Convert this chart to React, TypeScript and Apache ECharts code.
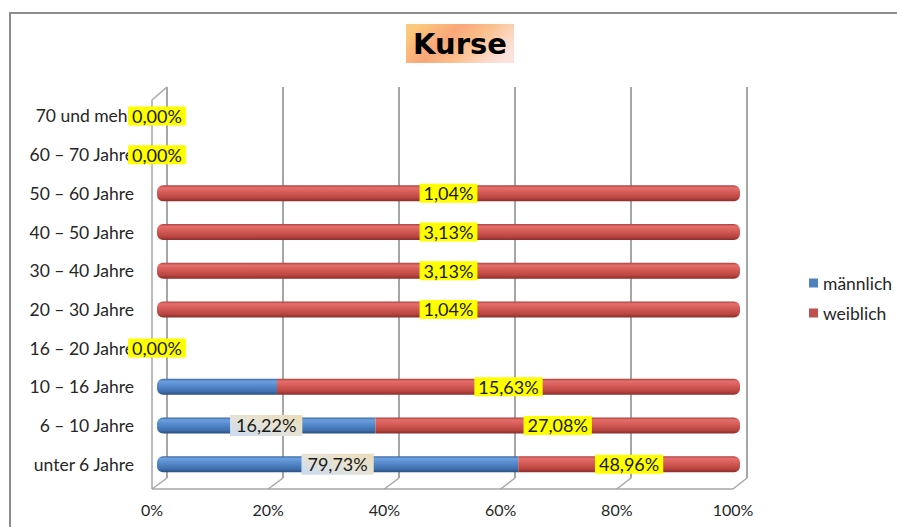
import React, { useEffect, useRef } from "react";
import * as echarts from "echarts";

const categories = [
  "unter 6 Jahre",
  "6 – 10 Jahre",
  "10 – 16 Jahre",
  "16 – 20 Jahre",
  "20 – 30 Jahre",
  "30 – 40 Jahre",
  "40 – 50 Jahre",
  "50 – 60 Jahre",
  "60 – 70 Jahre",
  "70 und mehr",
];
const maleValues = [79.73, 16.22, 4.05, 0, 0, 0, 0, 0, 0, 0];
const femaleValues = [48.96, 27.08, 15.63, 0, 1.04, 3.13, 3.13, 1.04, 0, 0];
const maleLabelShown = [true, true, false, false, false, false, false, false, false, false];
const xTickValues = [0, 20, 40, 60, 80, 100];
const seriesNames = ["männlich", "weiblich"];

const FONT = "Lato, 'Liberation Sans', sans-serif";

// 3D frame geometry
const FRONT_L = 152;
const FRONT_R = 733;
const FRONT_Y = 489;
const BACK_L = 167;
const BACK_R = 747;
const BACK_Y = 478;
const TOP_Y = 87;
const LEFT_TOP_Y = 100;

const fmt = (v: number) => v.toFixed(2).replace(".", ",") + "%";

export default function App() {
  const ref = useRef<HTMLDivElement>(null);

  useEffect(() => {
    if (!ref.current) return;
    const chart = echarts.init(ref.current, undefined, { renderer: "svg" });

    const totals = categories.map((_, i) => maleValues[i] + femaleValues[i]);
    const maleShare = categories.map((_, i) => (totals[i] > 0 ? (maleValues[i] / totals[i]) * 100 : 0));
    const femaleShare = categories.map((_, i) => (totals[i] > 0 ? (femaleValues[i] / totals[i]) * 100 : 0));

    const blue = new echarts.graphic.LinearGradient(0, 0, 0, 1, [
      { offset: 0, color: "#3b679e" },
      { offset: 0.15, color: "#6c9fde" },
      { offset: 0.45, color: "#5489cb" },
      { offset: 0.8, color: "#3f6fae" },
      { offset: 1, color: "#2a4f80" },
    ]);
    const red = new echarts.graphic.LinearGradient(0, 0, 0, 1, [
      { offset: 0, color: "#a8423f" },
      { offset: 0.15, color: "#e56e6b" },
      { offset: 0.45, color: "#d45a57" },
      { offset: 0.8, color: "#b8443f" },
      { offset: 1, color: "#8a2d2b" },
    ]);
    const maleLabelBg = new echarts.graphic.LinearGradient(0, 1, 1, 0, [
      { offset: 0, color: "#c9daf0" },
      { offset: 0.5, color: "#e6e3d6" },
      { offset: 1, color: "#eadcb8" },
    ]);

    const R = 6;
    const maleData = categories.map((_, i) => ({
      value: maleShare[i],
      raw: maleValues[i],
      itemStyle: { borderRadius: femaleShare[i] > 0 ? [R, 0, 0, R] : [R, R, R, R] },
      label: { show: maleLabelShown[i] && maleValues[i] > 0 },
    }));
    const femaleData = categories.map((_, i) => ({
      value: femaleShare[i],
      raw: femaleValues[i],
      itemStyle: { borderRadius: maleShare[i] > 0 ? [0, R, R, 0] : [R, R, R, R] },
    }));

    const xStep = (FRONT_R - FRONT_L) / 5;
    const backStep = (BACK_R - BACK_L) / 5;
    const frameLines: any[] = [];
    for (let k = 0; k <= 5; k++) {
      frameLines.push({
        type: "line",
        silent: true,
        shape: { x1: FRONT_L + k * xStep, y1: FRONT_Y, x2: BACK_L + k * backStep, y2: BACK_Y },
        style: { stroke: "#a6a6a6", lineWidth: 1.5 },
      });
    }
    frameLines.push({
      type: "line",
      silent: true,
      shape: { x1: FRONT_L, y1: FRONT_Y, x2: FRONT_R, y2: FRONT_Y },
      style: { stroke: "#a6a6a6", lineWidth: 1.5 },
    });
    frameLines.push({
      type: "polyline",
      silent: true,
      shape: {
        points: [
          [FRONT_L, FRONT_Y],
          [FRONT_L, LEFT_TOP_Y],
          [BACK_L, TOP_Y],
        ],
      },
      style: { stroke: "#a6a6a6", lineWidth: 1.5, fill: "none" },
    });

    const labelBase = {
      show: true,
      position: "inside",
      fontFamily: FONT,
      fontSize: 18,
      lineHeight: 18,
      color: "#1a1a1a",
      formatter: (p: any) => fmt(p.data.raw),
    };

    const option: any = {
      animation: false,
      backgroundColor: "#ffffff",
      grid: [
        { left: BACK_L, top: TOP_Y, width: BACK_R - BACK_L, height: BACK_Y - TOP_Y, containLabel: false },
        { left: FRONT_L, top: LEFT_TOP_Y, width: FRONT_R - FRONT_L, height: FRONT_Y - LEFT_TOP_Y, containLabel: false },
        { left: 157, top: 96.6, width: 583, height: 386.9, containLabel: false },
      ],
      xAxis: [
        {
          gridIndex: 0,
          type: "value",
          min: 0,
          max: 100,
          interval: 20,
          axisLine: { show: false },
          axisTick: { show: false },
          axisLabel: { show: false },
          splitLine: { show: true, lineStyle: { color: "#a6a6a6", width: 2 } },
        },
        {
          gridIndex: 1,
          type: "value",
          min: 0,
          max: 100,
          interval: 20,
          axisLine: { show: false },
          axisTick: { show: false },
          splitLine: { show: false },
          axisLabel: {
            show: true,
            margin: 12,
            fontFamily: FONT,
            fontSize: 16,
            color: "#262626",
            customValues: xTickValues,
            formatter: (v: number) => v + "%",
          },
        },
        {
          gridIndex: 2,
          type: "value",
          min: 0,
          max: 100,
          show: false,
        },
      ],
      yAxis: [
        { gridIndex: 0, type: "category", data: categories, show: false },
        { gridIndex: 1, type: "category", data: categories, show: false },
        {
          gridIndex: 2,
          type: "category",
          data: categories,
          axisLine: { show: false },
          axisTick: { show: false },
          splitLine: { show: false },
          axisLabel: { margin: 23, fontFamily: FONT, fontSize: 17.5, color: "#262626" },
        },
      ],
      legend: {
        orient: "vertical",
        left: 804,
        top: 269,
        itemWidth: 9,
        itemHeight: 9,
        itemGap: 12,
        icon: "rect",
        textStyle: { fontFamily: FONT, fontSize: 17.5, color: "#262626" },
        data: [
          { name: seriesNames[0], itemStyle: { color: "#4f81bd" } },
          { name: seriesNames[1], itemStyle: { color: "#c0504d" } },
        ],
      },
      graphic: [
        ...frameLines,
        {
          type: "group",
          silent: true,
          children: [
            {
              type: "rect",
              shape: { x: 406, y: 24, width: 108, height: 39 },
              style: {
                fill: new echarts.graphic.LinearGradient(0, 0.3, 1, 0.7, [
                  { offset: 0, color: "#fcc97c" },
                  { offset: 0.35, color: "#f9a77b" },
                  { offset: 0.6, color: "#fbc08c" },
                  { offset: 0.85, color: "#fdd8c6" },
                  { offset: 1, color: "#fde2dc" },
                ]),
              },
            },
            {
              type: "text",
              x: 460,
              y: 44,
              style: {
                text: "Kurse",
                fill: "#000000",
                font: "bold 29px 'DejaVu Sans', sans-serif",
                align: "center",
                verticalAlign: "middle",
              },
            },
          ],
        },
        {
          type: "rect",
          silent: true,
          shape: { x: 10, y: 13, width: 1000, height: 1000 },
          style: { fill: "none", stroke: "#8c8c8c", lineWidth: 2 },
        },
      ],
      series: [
        {
          name: seriesNames[0],
          type: "bar",
          stack: "total",
          xAxisIndex: 2,
          yAxisIndex: 2,
          barWidth: 16,
          itemStyle: { color: blue },
          label: { ...labelBase, backgroundColor: maleLabelBg, padding: [2, 6, 1, 6] },
          data: maleData,
        },
        {
          name: seriesNames[1],
          type: "bar",
          stack: "total",
          xAxisIndex: 2,
          yAxisIndex: 2,
          barWidth: 16,
          itemStyle: { color: red },
          label: { ...labelBase, backgroundColor: "#ffff00", padding: [1, 4, 0, 4] },
          data: femaleData,
        },
      ],
    };

    chart.setOption(option);
    return () => chart.dispose();
  }, []);

  return (
    <div
      ref={ref}
      style={{ position: "absolute", left: 0, top: 0, width: 897, height: 527, background: "#fff" }}
    />
  );
}
